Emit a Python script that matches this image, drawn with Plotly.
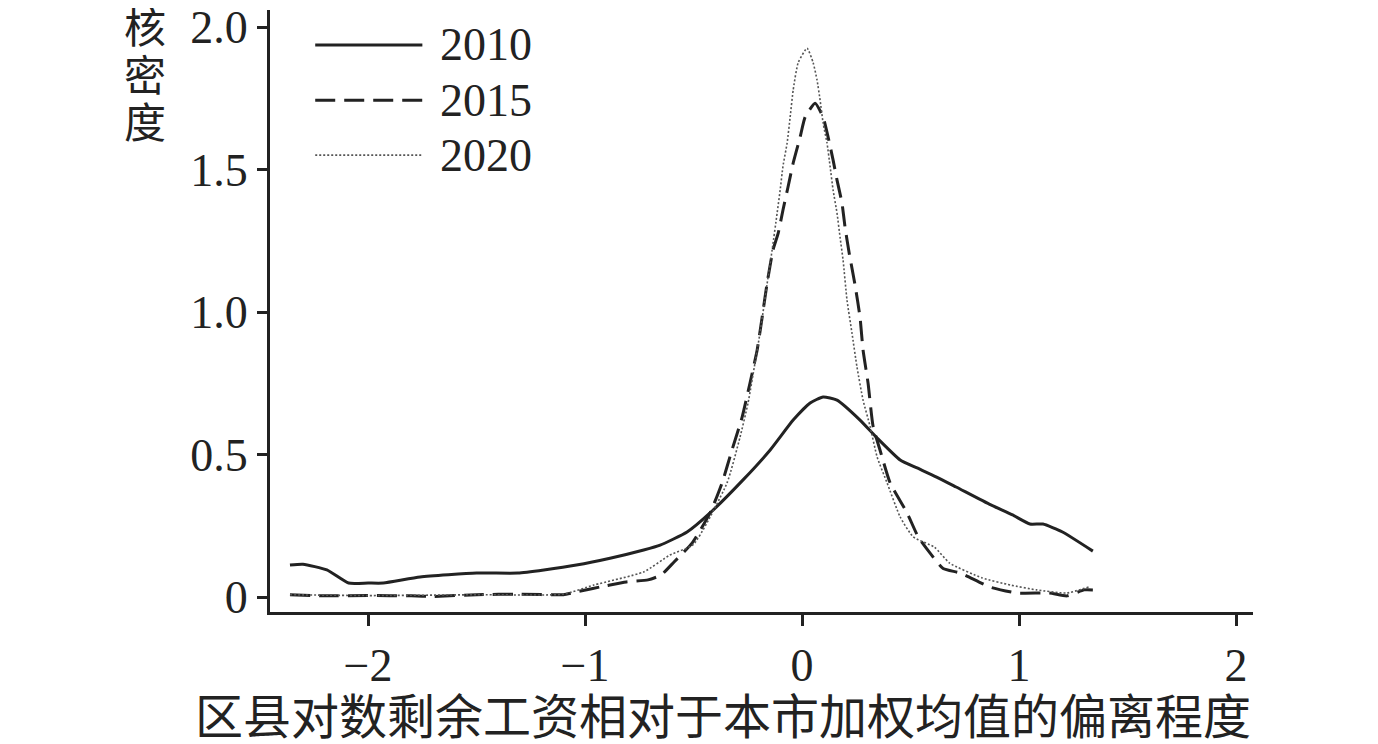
import plotly.graph_objects as go

# kernel density curves
x2010 = [-2.36, -2.30, -2.19, -2.09, -2.0, -1.93, -1.76, -1.50, -1.31, -1.19, -1.04, -0.88, -0.73,
         -0.654, -0.53, -0.424, -0.272, -0.147, -0.041, 0.037, 0.097, 0.161, 0.267, 0.346, 0.452,
         0.53, 0.62, 0.71, 0.87, 0.97, 1.05, 1.11, 1.20, 1.34]
y2010 = [0.112, 0.115, 0.095, 0.049, 0.049, 0.049, 0.070, 0.084, 0.084, 0.095, 0.112, 0.137, 0.165,
         0.182, 0.228, 0.295, 0.411, 0.516, 0.621, 0.681, 0.702, 0.691, 0.621, 0.558, 0.481,
         0.453, 0.421, 0.386, 0.323, 0.288, 0.256, 0.256, 0.228, 0.161]

x2015 = [-2.36, -2.2, -2.0, -1.8, -1.7, -1.5, -1.3, -1.1, -1.04, -0.9,
         -0.81, -0.71, -0.65, -0.59, -0.507, -0.424, -0.369, -0.323, -0.276, -0.240,
         -0.207, -0.184, -0.161, -0.134, -0.11, -0.088, -0.065, -0.041, -0.009, 0.014,
         0.06, 0.097, 0.12, 0.143, 0.161, 0.184, 0.198, 0.217, 0.244, 0.267,
         0.281, 0.304, 0.327, 0.359, 0.406, 0.484, 0.535, 0.59, 0.65, 0.73,
         0.866, 0.99, 1.14, 1.22, 1.30, 1.34]
y2015 = [0.008, 0.004, 0.005, 0.004, 0.002, 0.008, 0.01, 0.008, 0.018, 0.04,
         0.053, 0.06, 0.077, 0.123, 0.189, 0.295, 0.400, 0.516, 0.632, 0.751,
         0.867, 0.982, 1.102, 1.218, 1.277, 1.358, 1.438, 1.523, 1.614, 1.684,
         1.733, 1.684, 1.614, 1.533, 1.463, 1.382, 1.298, 1.207, 1.095, 0.982,
         0.867, 0.751, 0.600, 0.516, 0.400, 0.295, 0.211, 0.154, 0.10, 0.084,
         0.035, 0.014, 0.014, 0.004, 0.025, 0.025]

x2020 = [-2.36, -2.0, -1.5, -1.1, -0.96, -0.73, -0.61, -0.50, -0.346, -0.286,
         -0.249, -0.217, -0.194, -0.161, -0.138, -0.115, -0.101, -0.088, -0.069, -0.055,
         -0.041, -0.018, 0.023, 0.051, 0.069, 0.083, 0.097, 0.115, 0.129, 0.143,
         0.161, 0.175, 0.189, 0.207, 0.230, 0.253, 0.281, 0.313, 0.346, 0.392,
         0.452, 0.512, 0.61, 0.68, 0.83, 0.96, 1.08, 1.22, 1.32]
y2020 = [0.008, 0.005, 0.008, 0.01, 0.042, 0.088, 0.147, 0.185, 0.400, 0.561,
         0.681, 0.821, 0.926, 1.10, 1.218, 1.347, 1.428, 1.512, 1.593, 1.684,
         1.779, 1.875, 1.926, 1.875, 1.814, 1.744, 1.663, 1.593, 1.512, 1.428,
         1.347, 1.263, 1.182, 1.042, 0.926, 0.807, 0.691, 0.60, 0.491, 0.40,
         0.281, 0.211, 0.175, 0.119, 0.067, 0.042, 0.025, 0.014, 0.035]

years = ["2010", "2015", "2020"]
x_ticks = [-2, -1, 0, 1, 2]
y_ticks = [0, 0.5, 1.0, 1.5, 2.0]
y_ticktext = ["0", "0.5", "1.0", "1.5", "2.0"]

num_font = "Liberation Serif, Times New Roman, serif"
cjk_font = "Noto Sans CJK SC, Liberation Serif, serif"
num_size = 46

styles = [
    dict(color="#222222", width=3, dash="solid"),
    dict(color="#222222", width=3, dash="20px,9px"),
    dict(color="#555555", width=1.6, dash="2px,2px"),
]

fig = go.Figure()
for xs, ys, st, name in zip([x2010, x2015, x2020], [y2010, y2015, y2020], styles, years):
    fig.add_trace(go.Scatter(x=xs, y=ys, mode="lines", name=name,
                             line=dict(shape="spline", smoothing=0.5, **st),
                             showlegend=False))

# hand-made legend (long line samples like the original)
shapes = []
annotations = []
leg_y = [0.942, 0.850, 0.759]
for st, name, ly in zip(styles, years, leg_y):
    shapes.append(dict(type="line", xref="paper", yref="paper", x0=0.046, x1=0.155,
                       y0=ly, y1=ly, line=st))
    annotations.append(dict(text=name, xref="paper", yref="paper", x=0.171, y=ly,
                            xanchor="left", yanchor="middle", showarrow=False,
                            font=dict(family=num_font, size=num_size, color="#222222")))

# vertical y title
for ch, py in zip("核密度", [24, 72, 120]):
    annotations.append(dict(text=ch, xref="paper", yref="paper", x=-0.127,
                            y=(612 - py) / 602, xanchor="center", yanchor="middle",
                            showarrow=False,
                            font=dict(family=cjk_font, size=42, color="#222222")))

annotations.append(dict(text="区县对数剩余工资相对于本市加权均值的偏离程度",
                        xref="paper", yref="paper", x=0.461, y=-0.168,
                        xanchor="center", yanchor="middle", showarrow=False,
                        font=dict(family=cjk_font, size=48, color="#222222")))

# page body adds ~8px offset, so margins are shifted left/up by 8px
fig.update_layout(
    width=1378, height=744,
    margin=dict(l=262, r=133, t=2, b=140),
    plot_bgcolor="white", paper_bgcolor="white",
    shapes=shapes, annotations=annotations,
    font=dict(family=num_font, size=num_size, color="#222222"),
)
fig.update_xaxes(range=[-2.452, 2.078], tickvals=x_ticks, showline=True, linewidth=3,
                 linecolor="#222222", ticks="outside", ticklen=11, tickwidth=3,
                 tickcolor="#222222", showgrid=False, zeroline=False,
                 ticklabeloverflow="allow", automargin=False,
                 tickfont=dict(family=num_font, size=num_size))
fig.update_yaxes(range=[-0.0526, 2.06], tickvals=y_ticks, ticktext=y_ticktext,
                 showline=True, linewidth=3, linecolor="#222222", ticks="outside",
                 ticklen=10, tickwidth=3, tickcolor="#222222", showgrid=False,
                 zeroline=False, ticklabeloverflow="allow", automargin=False,
                 tickfont=dict(family=num_font, size=num_size))

fig.write_html("out.html")
